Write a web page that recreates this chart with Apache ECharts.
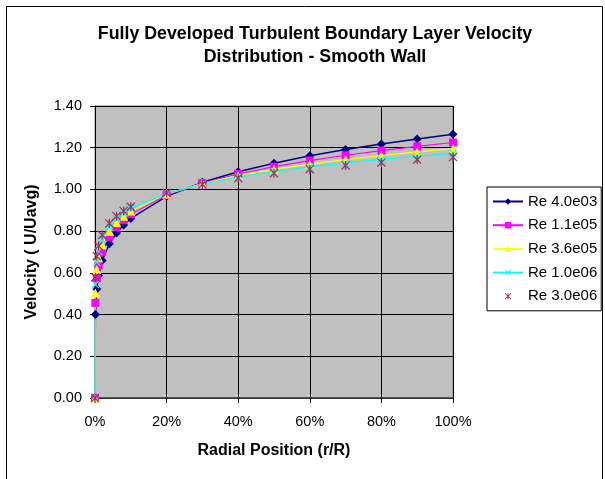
<!DOCTYPE html>
<html>
<head>
<meta charset="utf-8">
<script src="https://cdn.jsdelivr.net/npm/echarts@6/dist/echarts.min.js"></script>
<style>
html,body{margin:0;padding:0;background:#fff;}
#chart{width:605px;height:479px;}
</style>
</head>
<body>
<div id="chart"></div>
<script>
// Radial position (r/R) as fraction
var positions = [0, 0.001, 0.005, 0.01, 0.02, 0.04, 0.06, 0.08, 0.1, 0.2, 0.3, 0.4, 0.5, 0.6, 0.7, 0.8, 0.9, 1.0];
var seriesNames = ['Re 4.0e03', 'Re 1.1e05', 'Re 3.6e05', 'Re 1.0e06', 'Re 3.0e06'];
var re4e03 = [0, 0.400, 0.523, 0.587, 0.659, 0.739, 0.791, 0.830, 0.861, 0.967, 1.034, 1.085, 1.126, 1.161, 1.191, 1.218, 1.242, 1.264];
var re1e05 = [0, 0.456, 0.574, 0.634, 0.700, 0.773, 0.819, 0.854, 0.881, 0.973, 1.031, 1.074, 1.109, 1.138, 1.164, 1.186, 1.206, 1.225];
var re36e05 = [0, 0.504, 0.616, 0.672, 0.733, 0.799, 0.841, 0.872, 0.896, 0.978, 1.028, 1.066, 1.096, 1.121, 1.143, 1.162, 1.180, 1.195];
var re1e06 = [0, 0.544, 0.651, 0.703, 0.759, 0.820, 0.858, 0.886, 0.908, 0.981, 1.026, 1.059, 1.086, 1.108, 1.127, 1.144, 1.159, 1.173];
var re3e06 = [0, 0.579, 0.680, 0.729, 0.781, 0.837, 0.872, 0.897, 0.917, 0.983, 1.024, 1.054, 1.078, 1.097, 1.115, 1.129, 1.143, 1.155];
var xTicks = [0, 0.2, 0.4, 0.6, 0.8, 1.0];
var yTicks = [0, 0.2, 0.4, 0.6, 0.8, 1.0, 1.2, 1.4];

function pairs(vals){ return positions.map(function(x,i){ return [x, vals[i]]; }); }

var FONT = 'Liberation Sans, Arial, sans-serif';
var X_PATH = 'path://M0,1L1,0L5,4L9,0L10,1L6,5L10,9L9,10L5,6L1,10L0,9L4,5Z';
var AST_PATH = 'path://M0,1L1,0L5,4L9,0L10,1L6,5L10,9L9,10L5,6L1,10L0,9L4,5Z M4.3,0L5.7,0L5.7,10L4.3,10Z';

var defs = [
  {data: re4e03, color: '#000080', symbol: 'diamond', size: 9, lw: 1.5},
  {data: re1e05, color: '#FF00FF', symbol: 'rect', size: 8, lw: 1.2},
  {data: re36e05, color: '#FFFF00', symbol: 'triangle', size: 9, lw: 1.2},
  {data: re1e06, color: '#00FFFF', symbol: X_PATH, size: 8, lw: 1.2},
  {data: re3e06, color: '#993366', symbol: AST_PATH, size: 9, lw: 0}
];

var series = defs.map(function(d, i){
  return {
    name: seriesNames[i],
    type: 'line',
    data: pairs(d.data),
    symbol: d.symbol,
    symbolSize: d.size,
    showAllSymbol: true,
    animation: false,
    itemStyle: {color: d.color},
    lineStyle: {color: d.color, width: d.lw, opacity: d.lw === 0 ? 0 : 1}
  };
});

var chart = echarts.init(document.getElementById('chart'), null, {renderer: 'canvas'});
chart.setOption({
  animation: false,
  backgroundColor: '#ffffff',
  textStyle: {fontFamily: FONT},
  title: {
    text: 'Fully Developed Turbulent Boundary Layer Velocity\nDistribution - Smooth Wall',
    left: 310, top: 18, textAlign: 'center',
    textStyle: {fontFamily: FONT, fontSize: 17.8, fontWeight: 'bold', color: '#000', lineHeight: 23}
  },
  graphic: [{
    type: 'rect', silent: true, z: -1,
    shape: {x: 6.5, y: 6.5, width: 596, height: 480},
    style: {fill: 'none', stroke: '#000', lineWidth: 1}
  }],
  legend: {
    orient: 'vertical',
    left: 487, top: 187,
    padding: [7, 4, 7, 5],
    itemGap: 8.7,
    itemWidth: 30, itemHeight: 8,
    borderColor: '#000', borderWidth: 1,
    backgroundColor: '#fff',
    textStyle: {fontFamily: FONT, fontSize: 15, color: '#000'},
    data: seriesNames
  },
  grid: {
    left: 95, top: 106, right: 152, bottom: 81,
    show: true, backgroundColor: '#C0C0C0', borderColor: '#808080', borderWidth: 1
  },
  xAxis: {
    type: 'value', min: 0, max: 1, interval: 0.2,
    name: 'Radial Position (r/R)', nameLocation: 'middle', nameGap: 45,
    nameTextStyle: {fontFamily: FONT, fontSize: 16, fontWeight: 'bold', color: '#000'},
    axisLine: {show: true, onZero: false, lineStyle: {color: '#404040', width: 1.5}},
    axisTick: {show: true, length: 5, lineStyle: {color: '#000'}},
    axisLabel: {fontFamily: FONT, fontSize: 14.5, color: '#000', margin: 16,
      formatter: function(v){ return Math.round(v*100) + '%'; }},
    splitLine: {show: true, lineStyle: {color: '#000', width: 1}}
  },
  yAxis: {
    type: 'value', min: 0, max: 1.4, interval: 0.2,
    name: 'Velocity ( U/Uavg)', nameLocation: 'middle', nameGap: 55, nameRotate: 90,
    nameTextStyle: {fontFamily: FONT, fontSize: 16, fontWeight: 'bold', color: '#000'},
    axisLine: {show: true, lineStyle: {color: '#000', width: 1}},
    axisTick: {show: true, length: 5, lineStyle: {color: '#000'}},
    axisLabel: {fontFamily: FONT, fontSize: 14.5, color: '#000', margin: 13,
      formatter: function(v){ return v.toFixed(2); }},
    splitLine: {show: true, lineStyle: {color: '#000', width: 1}}
  },
  series: series
});
</script>
</body>
</html>
